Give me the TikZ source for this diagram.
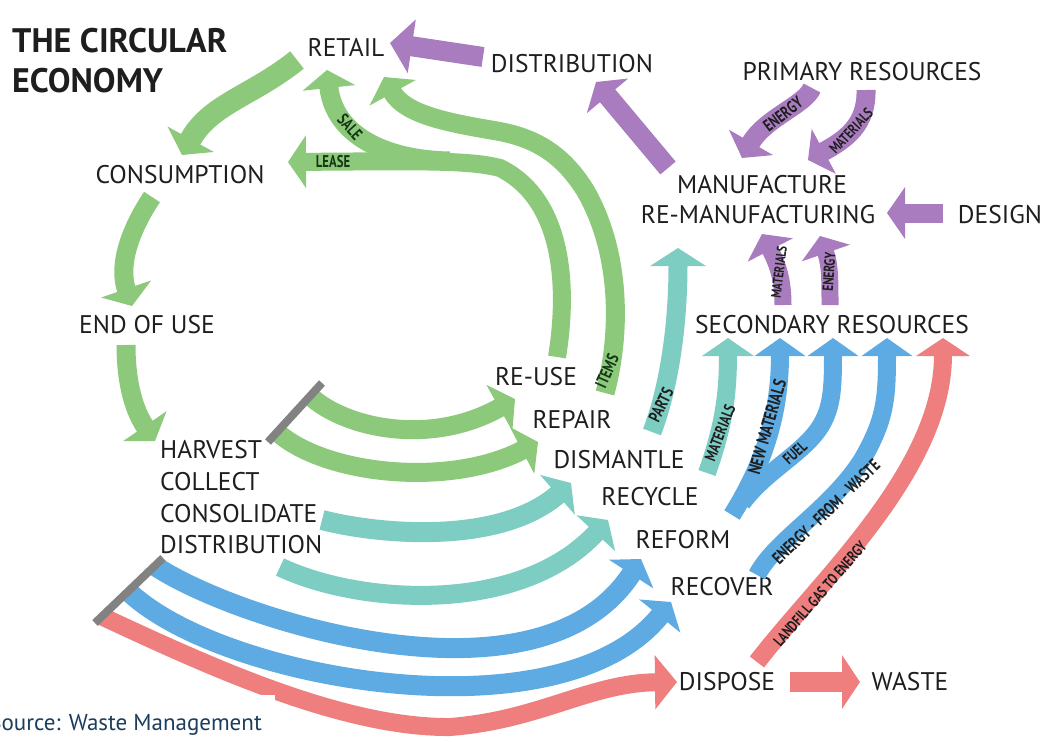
\documentclass[tikz,border=0pt]{standalone}
\usepackage{fontspec}
\setmainfont{PT Sans}
\newfontfamily\labfont[FakeStretch=0.75]{PT Sans}
\usetikzlibrary{arrows.meta}
\definecolor{cgreen}{RGB}{141,201,123}
\definecolor{cpurple}{RGB}{169,124,192}
\definecolor{cteal}{RGB}{126,205,195}
\definecolor{cblue}{RGB}{93,171,226}
\definecolor{cred}{RGB}{239,127,127}
\definecolor{cgray}{RGB}{130,130,130}
\definecolor{ctext}{RGB}{30,30,30}
\definecolor{csrc}{RGB}{28,62,92}
\definecolor{clabg}{RGB}{20,55,20}
\tikzset{
  txt/.style={font=\fontsize{25.5}{30}\selectfont, text=ctext, inner sep=0pt, anchor=base},
  txtl/.style={txt, anchor=base west},
  lbl/.style={font=\labfont\bfseries\fontsize{#1}{#1}\selectfont, text=ctext, inner sep=0pt},
  lbl/.default=16,
  glbl/.style={lbl=#1, text=clabg},
  glbl/.default=17,
  band/.style={draw=#1, line width=19pt},
  ahead/.style={-{Triangle[width=#1,length=18pt]}},
  ahead/.default=52pt,
  bar/.style={draw=cgray, line width=8pt},
}
\begin{document}
\begin{tikzpicture}[x=1pt,y=-1pt]
\useasboundingbox (0,0) rectangle (1045,742);
\fill[white] (0,0) rectangle (1045,742);
\clip (0,0) rectangle (1045,742);

% ---------- texts ----------
\node[txtl, font=\bfseries\fontsize{34}{40}\selectfont] (title1) at (12,52) {THE CIRCULAR};
\node[txtl, font=\bfseries\fontsize{34}{40}\selectfont] (title2) at (12,92) {ECONOMY};
\node[txt] (retail) at (346,56) {RETAIL};
\node[txt] (distrtop) at (572,72) {DISTRIBUTION};
\node[txt] (primary) at (862,80) {PRIMARY RESOURCES};
\node[txt] (consumption) at (180,183) {CONSUMPTION};
\node[txt] (manuf) at (762,193) {MANUFACTURE};
\node[txt] (reman) at (758,223) {RE-MANUFACTURING};
\node[txt] (design) at (1000,223) {DESIGN};
\node[txt] (enduse) at (147,333) {END OF USE};
\node[txt] (secondary) at (832,333) {SECONDARY RESOURCES};
\node[txt] (reuse) at (536,385) {RE-USE};
\node[txt] (repair) at (572,428) {REPAIR};
\node[txt] (dismantle) at (619,468) {DISMANTLE};
\node[txt] (recycle) at (650,505) {RECYCLE};
\node[txt] (reform) at (683,548) {REFORM};
\node[txt] (recover) at (722,595) {RECOVER};
\node[txt] (dispose) at (727,690) {DISPOSE};
\node[txt] (waste) at (910,690) {WASTE};
\node[txtl] (harvest) at (160,458) {HARVEST};
\node[txtl] (collect) at (160,490) {COLLECT};
\node[txtl] (consolidate) at (160,522) {CONSOLIDATE};
\node[txtl] (distrib) at (160,553) {DISTRIBUTION};

% ---------- end points ----------
\coordinate (g1s) at (297,60);   \coordinate (g1e) at (182,155);
\coordinate (g2s) at (152,197);  \coordinate (g2e) at (132,306);
\coordinate (g3s) at (126,345);  \coordinate (g3e) at (155,441);
\coordinate (leases) at (557,357); \coordinate (leasee) at (288,162);
\coordinate (sales) at (450,161);  \coordinate (salee) at (327,70);
\coordinate (itemss) at (605,393); \coordinate (itemse) at (384,77);
\coordinate (gas) at (310,396);  \coordinate (gae) at (515,399);
\coordinate (gbs) at (277,432);  \coordinate (gbe) at (538,442);
\coordinate (t1s) at (322,520);  \coordinate (t1e) at (571,483);
\coordinate (t2s) at (280,567);  \coordinate (t2e) at (608,520);
\coordinate (b1s) at (155,566);  \coordinate (b1e) at (641,559);
\coordinate (b2s) at (128,591);  \coordinate (b2e) at (671,602);
\coordinate (rs) at (101,616);   \coordinate (re) at (677,682);
\coordinate (partss) at (652,432); \coordinate (partse) at (678,248);
\coordinate (mats) at (707,473); \coordinate (mate) at (728,338);
\coordinate (nms) at (732,515);  \coordinate (nme) at (780,338);
\coordinate (fuels) at (742,503); \coordinate (fuele) at (833,338);
\coordinate (efws) at (757,575); \coordinate (efwe) at (887,338);
\coordinate (lfs) at (757,662);  \coordinate (lfe) at (943,338);
\coordinate (ws) at (790,682);   \coordinate (we) at (860,682);
\coordinate (p1s) at (483,57);   \coordinate (p1e) at (390,43);
\coordinate (p2s) at (668,168);  \coordinate (p2e) at (596,82);
\coordinate (p3s) at (812,88);   \coordinate (p3e) at (742,158);
\coordinate (p4s) at (866,90);   \coordinate (p4e) at (808,160);
\coordinate (p5s) at (943,213);  \coordinate (p5e) at (887,213);
\coordinate (p6s) at (783,305);  \coordinate (p6e) at (762,234);
\coordinate (p7s) at (830,305);  \coordinate (p7e) at (820,236);
\coordinate (bar1a) at (322,383); \coordinate (bar1b) at (268,442);
\coordinate (bar2a) at (163,558); \coordinate (bar2b) at (95,623);

% ---------- green ----------
\draw[band=cgreen, line width=22pt, ahead] (g1s) .. controls (252,96) and (210,104) .. (g1e);
\draw[band=cgreen, ahead] (g2s) .. controls (130,230) and (118,265) .. (g2e);
\draw[band=cgreen, ahead] (g3s) .. controls (126,385) and (135,412) .. (g3e);
\draw[band=cgreen, line width=18pt, ahead] (leases) .. controls (568,290) and (565,200) .. (500,168) .. controls (470,160) and (420,161) .. (leasee);
\draw[band=cgreen, ahead] (sales) .. controls (385,160) and (334,135) .. (salee);
\draw[band=cgreen, ahead] (itemss) .. controls (622,330) and (620,250) .. (585,190) .. controls (560,150) and (530,137) .. (497,131) .. controls (450,123) and (405,115) .. (itemse);
\draw[band=cgreen, ahead] (gas) .. controls (345,428) and (430,447) .. (gae);
\draw[band=cgreen, ahead] (gbs) .. controls (325,475) and (450,488) .. (gbe);

% ---------- teal ----------
\draw[band=cteal, line width=20pt, ahead] (t1s) .. controls (380,535) and (500,545) .. (t1e);
\draw[band=cteal, ahead] (t2s) .. controls (360,605) and (520,615) .. (t2e);
\draw[band=cteal, ahead=55pt] (partss) .. controls (668,390) and (678,330) .. (partse);
\draw[band=cteal, line width=18pt, ahead=51pt] (mats) .. controls (722,430) and (728,400) .. (mate);

% ---------- blue ----------
\draw[band=cblue, line width=20pt, ahead] (b1s) .. controls (240,622) and (540,715) .. (b1e);
\draw[band=cblue, line width=20pt, ahead] (b2s) .. controls (220,680) and (560,740) .. (b2e);
\draw[band=cblue, line width=18pt, ahead=50pt] (nms) .. controls (760,470) and (780,420) .. (nme);
\draw[band=cblue, line width=18pt, ahead=50pt] (fuels) .. controls (765,472) and (800,455) .. (818,430) .. controls (832,410) and (833,390) .. (fuele);
\draw[band=cblue, line width=18pt, ahead=50pt] (efws) .. controls (775,540) and (830,510) .. (862,460) .. controls (885,420) and (887,400) .. (efwe);

% ---------- red ----------
\draw[band=cred, line width=18pt, -{Triangle[width=53pt,length=22pt]}] (rs) .. controls (200,662) and (340,728) .. (450,727) .. controls (540,720) and (590,683) .. (re);
\draw[band=cred, line width=18pt, ahead=53pt] (lfs) .. controls (820,580) and (943,470) .. (lfe);
\draw[band=cred, line width=20pt, ahead=53pt] (ws) -- (we);

% ---------- purple ----------
\draw[band=cpurple, line width=20pt, -{Triangle[width=53pt,length=22pt]}] (p1s) -- (p1e);
\draw[band=cpurple, line width=20pt, ahead=53pt] (p2s) -- (p2e);
\draw[band=cpurple, ahead=50pt] (p3s) .. controls (805,105) and (765,118) .. (p3e);
\draw[band=cpurple, ahead=50pt] (p4s) .. controls (867,125) and (845,140) .. (p4e);
\draw[band=cpurple, ahead=51pt] (p5s) -- (p5e);
\draw[band=cpurple, line width=17pt, ahead=50pt] (p6s) .. controls (783,280) and (778,265) .. (p6e);
\draw[band=cpurple, line width=17pt, ahead=50pt] (p7s) .. controls (830,280) and (830,265) .. (p7e);

% ---------- grey bars ----------
\draw[bar] (bar1a) -- (bar1b);
\draw[bar] (bar2a) -- (bar2b);

% ---------- band labels ----------
\node[glbl=17, rotate=-48] (lsale) at (350,127) {SALE};
\node[glbl=17] (llease) at (333,162) {LEASE};
\node[glbl=17, rotate=66] (litems) at (607,371) {ITEMS};
\node[lbl=17, rotate=64] (lparts) at (661,405) {PARTS};
\node[lbl=16, rotate=69] (lmat) at (720,433) {MATERIALS};
\node[lbl=18, rotate=74] (lnm) at (767,427) {NEW MATERIALS};
\node[lbl=16, rotate=43] (lfuel) at (795,453) {FUEL};
\node[lbl=17.5, rotate=44] (lefw) at (826,512) {ENERGY - FROM - WASTE};
\node[lbl=15.5, rotate=49] (llf) at (820,594) {LANDFILL GAS TO ENERGY};
\node[lbl=17, rotate=37] (lpen) at (783,114) {ENERGY};
\node[lbl=15, rotate=47] (lpmat) at (851,131) {MATERIALS};
\node[lbl=14, rotate=83] (lsmat) at (779,272) {MATERIALS};
\node[lbl=15, rotate=86] (lsen) at (829,272) {ENERGY};

% ---------- source ----------
\fill[white] (0,695) rectangle (275,742);
\node[txt, font=\fontsize{23}{28}\selectfont, anchor=base east, text=csrc] (source) at (262,730) {Source: Waste Management};
\end{tikzpicture}
\end{document}
